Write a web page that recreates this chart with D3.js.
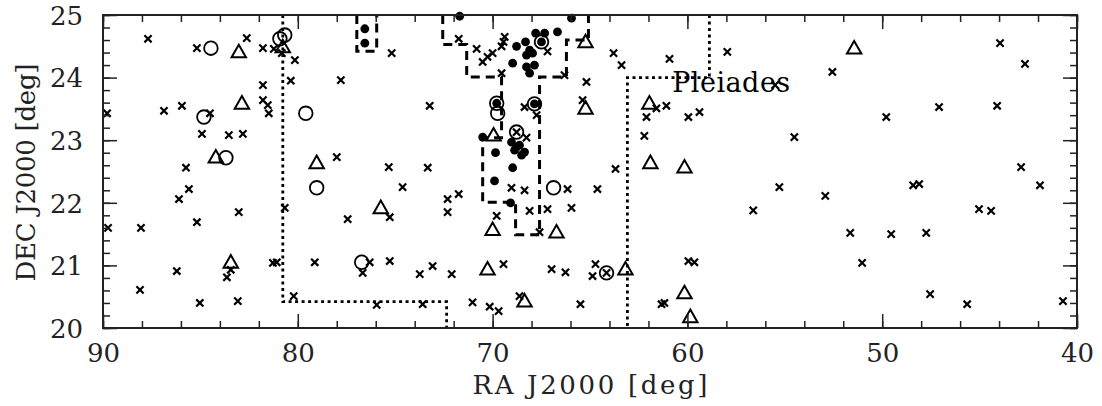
<!DOCTYPE html>
<html lang="en">
<head>
<meta charset="UTF-8">
<title>RA / DEC map</title>
<script src="https://d3js.org/d3.v7.min.js"></script>
<style>
  body { margin: 0; background: #fff; }
  svg { display: block; font-family: "DejaVu Serif", serif; }
  .tick line { stroke: #222; stroke-width: 1.5px; }
  .tick text { fill: #222; font-size: 26px; font-family: "DejaVu Serif", serif; }
  .frame { fill: none; stroke: #222; stroke-width: 2px; }
  .field { fill: none; stroke: #000; stroke-width: 3px; stroke-dasharray: 9,6; }
  .boundary { fill: none; stroke: #000; stroke-width: 2.8px; stroke-dasharray: 3,3.5; }
  .cross { fill: none; stroke: #000; stroke-width: 2.2px; }
  .ring { fill: none; stroke: #000; stroke-width: 1.8px; }
  .tri { fill: none; stroke: #000; stroke-width: 2px; }
  .dot { fill: #000; }
  .label { fill: #222; font-size: 26px; }
</style>
</head>
<body>
<svg width="1102" height="406"></svg>
<script>
// [RA, DEC] in degrees
const crosses = [
  [87.69,24.62],[85.18,24.47],[82.62,24.63],[81.79,24.47],[81.23,24.46],[80.82,24.39],
  [80.15,24.28],[80.36,23.95],[77.79,23.96],[81.79,23.88],[81.79,23.64],[81.54,23.56],
  [81.49,23.43],[89.79,23.43],[86.87,23.47],[85.95,23.55],[84.51,23.43],[84.92,23.10],
  [83.54,23.08],[82.82,23.10],[78.00,22.73],[85.74,22.56],[85.59,22.22],[86.10,22.06],
  [89.74,21.60],[88.05,21.60],[85.18,21.69],[83.03,21.85],[80.67,21.92],[77.44,21.74],
  [83.44,20.93],[83.64,20.81],[86.21,20.91],[88.10,20.61],[85.03,20.40],[83.08,20.43],
  [81.28,21.04],[81.08,21.05],[80.21,20.51],[79.13,21.05],[76.67,20.88],[76.31,21.05],
  [75.28,21.07],[75.95,20.37],[75.33,22.57],[75.28,21.77],[75.18,24.39],[73.23,23.55],
  [73.33,22.56],[74.62,22.25],[72.31,22.06],[71.74,22.14],[72.31,21.85],[73.74,20.86],
  [73.08,20.99],[72.10,20.86],[73.59,20.38],[71.03,20.41],[70.82,24.46],[71.74,24.62],
  [70.51,24.25],[70.26,24.33],[70.00,24.39],[69.38,24.65],[69.44,24.57],[69.54,24.50],
  [69.54,24.07],[67.18,24.42],[66.31,24.04],[65.18,23.93],[65.38,23.64],[63.79,24.39],
  [63.38,24.20],[60.92,24.30],[57.95,24.41],[68.36,23.53],[67.74,23.40],[68.26,23.04],
  [68.77,23.13],[69.03,22.24],[68.36,22.20],[66.15,22.22],[64.62,22.22],[63.69,22.54],
  [62.21,23.07],[62.10,23.37],[61.08,23.55],[61.59,23.51],[59.95,23.37],[59.38,23.45],
  [69.79,21.79],[68.10,21.87],[67.18,21.90],[65.95,21.92],[67.59,21.53],[69.44,21.02],
  [66.97,20.94],[66.26,20.89],[64.72,21.02],[64.87,20.83],[64.15,20.88],[59.95,21.07],
  [59.64,21.05],[61.33,20.38],[61.18,20.40],[70.15,20.34],[69.69,20.27],[68.62,20.51],
  [65.49,20.38],[56.62,21.88],[52.56,24.09],[43.95,24.55],[42.67,24.22],[55.50,23.88],
  [47.08,23.53],[44.10,23.55],[49.79,23.37],[54.51,23.05],[42.87,22.57],[41.90,22.28],
  [55.28,22.25],[52.92,22.11],[48.41,22.28],[48.10,22.30],[45.03,21.90],[44.41,21.87],
  [51.64,21.52],[49.54,21.50],[47.74,21.52],[51.03,21.04],[47.54,20.54],[45.64,20.38],
  [40.72,20.43]
];

const circles = [
  [84.46,24.47],[80.92,24.62],[80.67,24.68],[84.82,23.37],[79.59,23.43],[83.69,22.72],
  [79.03,22.24],[76.72,21.05],[67.49,24.57],[69.79,23.59],[69.74,23.43],[67.85,23.58],
  [68.77,23.13],[66.87,22.24],[64.15,20.88]
];

const triangles = [
  [83.03,24.41],[80.77,24.49],[82.87,23.59],[84.21,22.73],[79.03,22.64],[75.74,21.92],
  [83.44,21.05],[65.23,24.57],[65.23,23.51],[69.95,23.08],[70.00,21.57],[66.72,21.53],
  [70.26,20.94],[63.18,20.94],[68.36,20.43],[61.95,23.59],[61.90,22.64],[60.15,22.57],
  [51.44,24.47],[60.15,20.56],[59.85,20.18]
];

const dots = [
  [76.56,24.78],[76.56,24.55],[71.69,24.98],[65.95,24.95],[67.79,24.71],[67.33,24.71],
  [66.67,24.73],[67.49,24.57],[68.31,24.57],[68.77,24.50],[68.10,24.44],[68.26,24.36],
  [67.95,24.39],[68.97,24.23],[68.26,24.17],[68.10,24.07],[67.85,24.20],[69.79,23.59],
  [67.85,23.58],[70.51,23.05],[69.03,22.97],[68.77,22.89],[68.62,22.92],[68.36,22.81],
  [68.51,22.76],[68.87,22.84],[69.85,22.80],[68.97,22.56],[69.90,22.35],[69.08,22.00]
];

// dashed survey fields
const fields = [
  [[72.56,25.0],[72.56,24.53],[71.33,24.53],[71.33,24.01],[69.54,24.01],[69.54,23.04],
   [70.51,23.04],[70.51,22.01],[68.82,22.01],[68.82,21.49],[67.59,21.49],[67.59,24.01],
   [66.21,24.01],[66.21,24.60],[65.08,24.60],[65.08,25.0]],
  [[76.97,25.0],[76.97,24.42],[75.95,24.42],[75.95,25.0]]
];

// dotted boundaries
const boundaries = [
  [[80.77,25.0],[80.77,20.42],[72.36,20.42],[72.36,20.0]],
  [[58.87,25.0],[58.87,24.0],[63.08,24.0],[63.08,20.0]]
];

const xMajor = [90, 80, 70, 60, 50, 40];
const xMinor = d3.range(40, 91, 2);
const yMajor = [20, 21, 22, 23, 24, 25];
const yMinor = d3.range(100, 126).map(v => v / 5);

const svg = d3.select("svg"),
      width = +svg.attr("width"),
      height = +svg.attr("height"),
      margin = { top: 15, right: 25, bottom: 78, left: 103 },
      w = width - margin.left - margin.right,
      h = height - margin.top - margin.bottom;

svg.append("rect").attr("width", width).attr("height", height).attr("fill", "#fff");

const g = svg.append("g").attr("transform", `translate(${margin.left},${margin.top})`);

const x = d3.scaleLinear().domain([90, 40]).range([0, w]);
const y = d3.scaleLinear().domain([20, 25]).range([h, 0]);

const line = d3.line().x(d => x(d[0])).y(d => y(d[1]));

g.selectAll(".boundary").data(boundaries).enter().append("path")
  .attr("class", "boundary").attr("d", line);

g.selectAll(".field").data(fields).enter().append("path")
  .attr("class", "field").attr("d", line);

// markers
const s = 3.6;
g.selectAll(".cross").data(crosses).enter().append("path")
  .attr("class", "cross")
  .attr("d", d => {
    const cx = x(d[0]), cy = y(d[1]);
    return `M${cx - s},${cy - s}L${cx + s},${cy + s}M${cx - s},${cy + s}L${cx + s},${cy - s}`;
  });

g.selectAll(".ring").data(circles).enter().append("circle")
  .attr("class", "ring")
  .attr("cx", d => x(d[0])).attr("cy", d => y(d[1])).attr("r", 6.8);

const t = 7.2;
g.selectAll(".tri").data(triangles).enter().append("path")
  .attr("class", "tri")
  .attr("d", d => {
    const cx = x(d[0]), cy = y(d[1]);
    return `M${cx},${cy - t}L${cx + t},${cy + t * 0.75}L${cx - t},${cy + t * 0.75}Z`;
  });

g.selectAll(".dot").data(dots).enter().append("circle")
  .attr("class", "dot")
  .attr("cx", d => x(d[0])).attr("cy", d => y(d[1])).attr("r", 4.4);

// frame
g.append("rect").attr("class", "frame").attr("width", w).attr("height", h);

// ticks, all pointing inward
function noDomain(sel) { sel.select(".domain").remove(); }

const axBottom = g.append("g").attr("transform", `translate(0,${h})`);
axBottom.append("g").call(d3.axisBottom(x).tickValues(xMinor).tickSize(-7).tickFormat("")).call(noDomain);
axBottom.append("g").call(d3.axisBottom(x).tickValues(xMajor).tickSize(-14).tickFormat(d3.format("d")))
  .call(noDomain)
  .call(a => a.selectAll("text").attr("y", 34).attr("dy", null));

const axTop = g.append("g");
axTop.append("g").call(d3.axisTop(x).tickValues(xMinor).tickSize(-7).tickFormat("")).call(noDomain);
axTop.append("g").call(d3.axisTop(x).tickValues(xMajor).tickSize(-14).tickFormat("")).call(noDomain);

const axLeft = g.append("g");
axLeft.append("g").call(d3.axisLeft(y).tickValues(yMinor).tickSize(-7).tickFormat("")).call(noDomain);
axLeft.append("g").call(d3.axisLeft(y).tickValues(yMajor).tickSize(-14).tickFormat(d3.format("d")))
  .call(noDomain)
  .call(a => a.selectAll("text").attr("x", -20).attr("dy", "0.36em"));

const axRight = g.append("g").attr("transform", `translate(${w},0)`);
axRight.append("g").call(d3.axisRight(y).tickValues(yMinor).tickSize(-7).tickFormat("")).call(noDomain);
axRight.append("g").call(d3.axisRight(y).tickValues(yMajor).tickSize(-14).tickFormat("")).call(noDomain);

g.selectAll(".tick text").attr("fill", "#222");

// labels
svg.append("text").attr("class", "label")
  .attr("x", margin.left + w / 2).attr("y", 394)
  .attr("text-anchor", "middle")
  .attr("textLength", 235).attr("lengthAdjust", "spacing")
  .text("RA J2000 [deg]");

svg.append("text").attr("class", "label")
  .attr("transform", `translate(35,${margin.top + h / 2 + 1}) rotate(-90)`)
  .attr("text-anchor", "middle")
  .attr("textLength", 218).attr("lengthAdjust", "spacing")
  .text("DEC J2000 [deg]");

g.append("text")
  .attr("x", x(60.78)).attr("y", y(23.77))
  .attr("font-size", 27).attr("fill", "#000")
  .attr("textLength", 118).attr("lengthAdjust", "spacing")
  .text("Pleiades");
</script>
</body>
</html>
